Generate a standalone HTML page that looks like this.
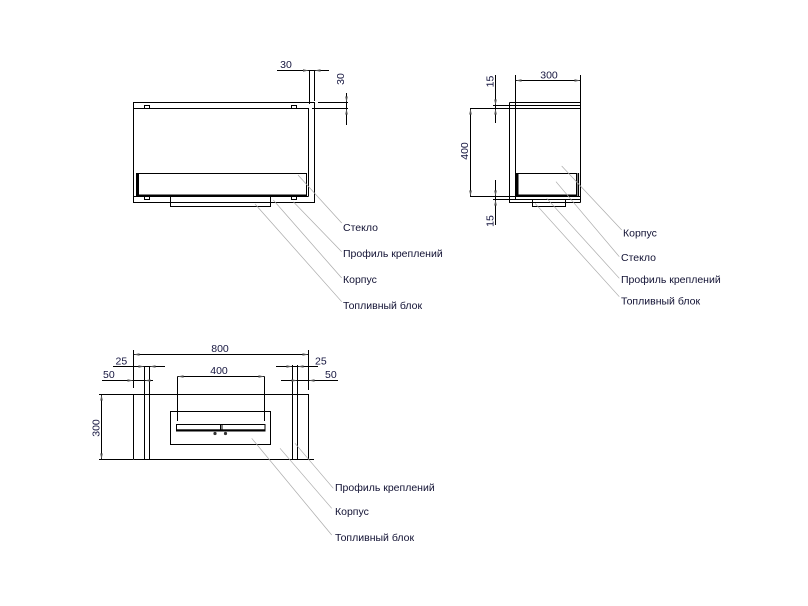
<!DOCTYPE html>
<html>
<head>
<meta charset="utf-8">
<style>
html,body{margin:0;padding:0;background:#fff;}
svg{display:block;}
text{font-family:"Liberation Sans",Arial,sans-serif;fill:#15153f;}
.d{font-size:10.5px;}
.l{font-size:10.5px;fill:#111133;}
</style>
</head>
<body>
<svg width="808" height="606" viewBox="0 0 808 606" xmlns="http://www.w3.org/2000/svg">
<rect width="808" height="606" fill="#fff"/>

<!-- ============ Drawing 1 (front) ============ -->
<g stroke="#000" stroke-width="1" fill="none">
  <path d="M133.5 102.5 H314.5 V202.5 H133.5 Z"/>
  <path d="M133.5 108.5 H308.5 V196.5"/>
  <path d="M133.5 196.5 H308.5"/>
  <rect x="136.5" y="173.5" width="170" height="22"/>
  <rect x="144.5" y="105.5" width="5" height="3"/>
  <rect x="291.5" y="105.5" width="5" height="3"/>
  <rect x="144.5" y="196.5" width="5" height="3"/>
  <rect x="291.5" y="196.5" width="5" height="3"/>
  <rect x="170.5" y="196.5" width="100" height="10"/>
  <!-- dims -->
  <path d="M309.5 70 V104 M314.5 70 V101 M277 70.5 H329"/>
  <path d="M318 102.5 H348 M312 108.5 H348 M346.5 93 V125"/>
</g>
<rect x="136" y="173" width="3" height="23" fill="#000"/>
<rect x="136" y="194.5" width="171" height="2" fill="#000"/>
<g fill="#555">
  <polygon points="309,70.5 303,69.2 303,71.8"/>
  <polygon points="314.5,70.5 320.5,69.2 320.5,71.8"/>
  <polygon points="346.5,102.5 345.2,96.5 347.8,96.5"/>
  <polygon points="346.5,108.5 345.2,114.5 347.8,114.5"/>
</g>
<text class="d" x="286" y="68" text-anchor="middle">30</text>
<text class="d" transform="translate(344,79) rotate(-90)" text-anchor="middle">30</text>
<g stroke="#aaa" stroke-width="0.7" fill="none">
  <path d="M298 175 L341.7 223"/>
  <path d="M293.3 201.7 L341.7 251.7"/>
  <path d="M273.3 200 L341.7 278"/>
  <path d="M255 204 L341.7 301.7"/>
</g>
<text class="l" x="343" y="231">Стекло</text>
<text class="l" x="343" y="257">Профиль креплений</text>
<text class="l" x="343" y="283">Корпус</text>
<text class="l" x="343" y="309">Топливный блок</text>

<!-- ============ Drawing 2 (side) ============ -->
<g stroke="#000" stroke-width="1" fill="none">
  <path d="M509.5 102.5 V202.5 H580.5"/>
  <path d="M509.5 102.5 H580.5"/>
  <path d="M580.5 75 V202.5"/>
  <path d="M515.5 75 V199.5"/>
  <path d="M493 105.5 H580.5 M470 108.5 H580.5 M470 196.5 H580.5 M493 199.5 H580.5"/>
  <path d="M515.5 80.5 H580.5"/>
  <path d="M495.5 75 V123 M470.5 108 V196.5 M495.5 180 V225"/>
  <rect x="516.5" y="173.5" width="60" height="22"/>
  <rect x="532.5" y="199.5" width="33" height="7"/>
</g>
<rect x="516" y="173" width="2.5" height="23" fill="#000"/>
<rect x="516" y="194.5" width="61" height="2" fill="#000"/>
<path d="M578.3 173 V196" stroke="#000" stroke-width="1.5"/>
<g fill="#555">
  <polygon points="515.5,80.5 521.5,79.2 521.5,81.8"/>
  <polygon points="580.5,80.5 574.5,79.2 574.5,81.8"/>
  <polygon points="495.5,105.5 494.2,99.5 496.8,99.5"/>
  <polygon points="495.5,108.5 494.2,114.5 496.8,114.5"/>
  <polygon points="470.5,108.5 469.2,114.5 471.8,114.5"/>
  <polygon points="470.5,196.5 469.2,190.5 471.8,190.5"/>
  <polygon points="495.5,196.5 494.2,190.5 496.8,190.5"/>
  <polygon points="495.5,199.5 494.2,205.5 496.8,205.5"/>
</g>
<text class="d" x="549" y="78.5" text-anchor="middle">300</text>
<text class="d" transform="translate(493.5,81.5) rotate(-90)" text-anchor="middle">15</text>
<text class="d" transform="translate(468,151) rotate(-90)" text-anchor="middle">400</text>
<text class="d" transform="translate(493.5,221) rotate(-90)" text-anchor="middle">15</text>
<g stroke="#aaa" stroke-width="0.7" fill="none">
  <path d="M561.7 166 L621.7 230"/>
  <path d="M556 181.7 L619.3 256.7"/>
  <path d="M546.7 198.3 L619.3 278.3"/>
  <path d="M535 203.3 L619.3 296.7"/>
</g>
<text class="l" x="623" y="236.5">Корпус</text>
<text class="l" x="621" y="261">Стекло</text>
<text class="l" x="621" y="283">Профиль креплений</text>
<text class="l" x="621" y="304.5">Топливный блок</text>

<!-- ============ Drawing 3 (top) ============ -->
<g stroke="#000" stroke-width="1" fill="none">
  <path d="M133.5 459.5 V394.5 H308.5 V459.5"/>
  <path d="M133.5 459.5 H314"/>
  <path d="M144.5 366 V459.5 M149.5 366 V459.5 M292.5 365 V459.5 M297.5 365 V459.5"/>
  <path d="M133.5 350 V388 M308.5 350 V390"/>
  <path d="M133.5 354.5 H308.5"/>
  <path d="M113 366.5 H165 M102 380.5 H153 M276 366.5 H318 M281 380.5 H338"/>
  <path d="M177.5 376.5 H264.5 M177.5 376.5 V421 M264.5 376.5 V421"/>
  <rect x="170.5" y="411.5" width="100" height="33"/>
  <rect x="176.5" y="424.5" width="88.5" height="6.5"/>
  <path d="M220.5 424.5 V431 M222 424.5 V431"/>
  <path d="M101.5 394.5 V459.5 M99 394.5 H133 M99 459.5 H133"/>
</g>
<rect x="176.5" y="429.3" width="88.5" height="1.8" fill="#000"/>
<circle cx="215" cy="433.5" r="1.6" fill="#333"/>
<circle cx="225.5" cy="433.5" r="1.6" fill="#333"/>
<g fill="#555">
  <polygon points="133.5,354.5 139.5,353.2 139.5,355.8"/>
  <polygon points="308.5,354.5 302.5,353.2 302.5,355.8"/>
  <polygon points="144.5,366.5 138.5,365.2 138.5,367.8"/>
  <polygon points="149.5,366.5 155.5,365.2 155.5,367.8"/>
  <polygon points="133.5,380.5 127.5,379.2 127.5,381.8"/>
  <polygon points="144.5,380.5 150.5,379.2 150.5,381.8"/>
  <polygon points="292.5,366.5 286.5,365.2 286.5,367.8"/>
  <polygon points="297.5,366.5 303.5,365.2 303.5,367.8"/>
  <polygon points="297.5,380.5 291.5,379.2 291.5,381.8"/>
  <polygon points="308.5,380.5 314.5,379.2 314.5,381.8"/>
  <polygon points="177.5,376.5 183.5,375.2 183.5,377.8"/>
  <polygon points="264.5,376.5 258.5,375.2 258.5,377.8"/>
  <polygon points="101.5,394.5 100.2,400.5 102.8,400.5"/>
  <polygon points="101.5,459.5 100.2,453.5 102.8,453.5"/>
</g>
<text class="d" x="220" y="352" text-anchor="middle">800</text>
<text class="d" x="115.5" y="364.5">25</text>
<text class="d" x="103" y="378">50</text>
<text class="d" x="315" y="364.5">25</text>
<text class="d" x="325" y="378">50</text>
<text class="d" x="219" y="374" text-anchor="middle">400</text>
<text class="d" transform="translate(99.5,428) rotate(-90)" text-anchor="middle">300</text>
<g stroke="#aaa" stroke-width="0.7" fill="none">
  <path d="M295 443.3 L333.3 488.3"/>
  <path d="M280 448.3 L331.7 508.3"/>
  <path d="M251.7 438.3 L331.7 535"/>
</g>
<text class="l" x="335" y="491">Профиль креплений</text>
<text class="l" x="335" y="515">Корпус</text>
<text class="l" x="335" y="541">Топливный блок</text>
</svg>
</body>
</html>
